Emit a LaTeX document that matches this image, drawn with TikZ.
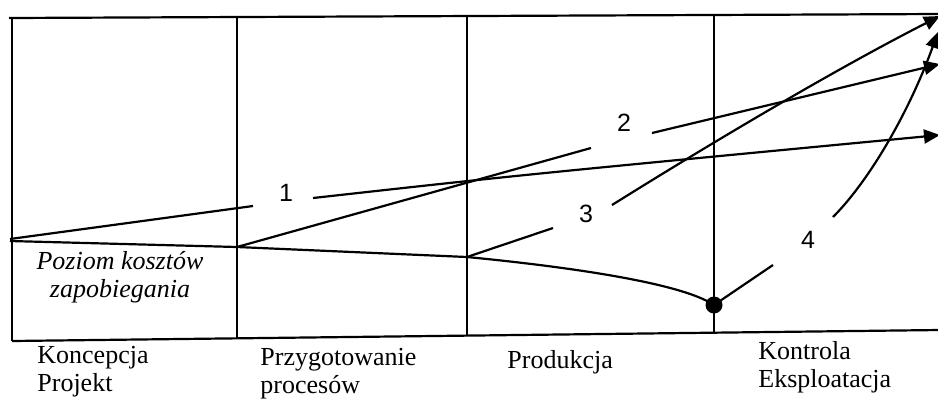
\documentclass[tikz,border=0pt]{standalone}
\usepackage{fontspec}
\setmainfont{Liberation Serif}
\newfontfamily\digitfont{Liberation Sans}
\usetikzlibrary{arrows.meta}
\tikzset{
  frame/.style={line width=1.1pt},
  costline/.style={line width=1.1pt},
  costarrow/.style={line width=1.1pt, -{Triangle[length=8pt,width=7pt]}},
  phase/.style={anchor=west, align=left, inner sep=0pt, font=\fontsize{13}{14}\selectfont},
  level/.style={align=center, inner sep=0pt, font=\fontsize{13}{14}\selectfont\itshape},
  num/.style={inner sep=0pt, font=\digitfont\fontsize{12.5}{14}\selectfont},
  dot/.style={circle, fill, inner sep=0pt, minimum size=8.5pt}
}

\begin{document}
\begin{tikzpicture}[x=0.5pt,y=-0.5pt]
  \useasboundingbox (0,0) rectangle (938,398);
  % frame
  \coordinate (tl) at (9,18);
  \coordinate (tr) at (940,14);
  \coordinate (bl) at (12,341);
  \coordinate (br) at (940,330);
  \draw[frame] (tl) -- (tr);
  \draw[frame] (bl) -- (br);
  \draw[frame] (12,18) -- (bl);
  \draw[frame] (237,17) -- (237,338.3);
  \draw[frame] (467,16) -- (467,335.6);
  \draw[frame] (714,15) -- (714,332.7);

  % prevention cost level
  \coordinate (p0) at (10,241);
  \coordinate (p1) at (237,247);
  \coordinate (p2) at (467,257);
  \node[dot] (p3) at (714,305) {};
  \draw[costline] (p0) -- (p1) -- (p2) .. controls (560,266) and (680,282) .. (p3.center);

  % cost curves
  \node[num] (n1) at (286,193) {1};
  \node[num] (n2) at (624,123) {2};
  \node[num] (n3) at (586,214) {3};
  \node[num] (n4) at (808,240) {4};

  \coordinate (a1) at (10,239);
  \coordinate (b1) at (253,206);
  \coordinate (c1) at (313,198);
  \coordinate (e1) at (940,135);
  \draw[costline] (a1) -- (b1);
  \draw[costarrow] (c1) .. controls (520,175) .. (e1);

  \coordinate (b2) at (591,148);
  \coordinate (c2) at (652,133);
  \coordinate (e2) at (940,64);
  \draw[costline] (p1) -- (b2);
  \draw[costarrow] (c2) -- (e2);

  \coordinate (b3) at (553,228);
  \coordinate (c3) at (612,205);
  \coordinate (e3) at (940,16);
  \draw[costline] (p2) -- (b3);
  \draw[costarrow] (c3) .. controls (700,150) and (830,72) .. (e3);

  \coordinate (b4) at (773,265);
  \coordinate (c4) at (833,217);
  \coordinate (e4) at (938,32);
  \draw[costline] (p3.center) -- (b4);
  \draw[costarrow] (c4) .. controls (870,180) and (910,110) .. (e4);

  % texts
  \node[level] (lvl) at (120,277) {Poziom kosztów\\zapobiegania};
  \node[phase] (ph1) at (37,372) {Koncepcja\\Projekt};
  \node[phase] (ph2) at (260,374) {Przygotowanie\\procesów};
  \node[phase] (ph3) at (507,362) {Produkcja};
  \node[phase] (ph4) at (758,367) {Kontrola\\Eksploatacja};
\end{tikzpicture}
\end{document}
